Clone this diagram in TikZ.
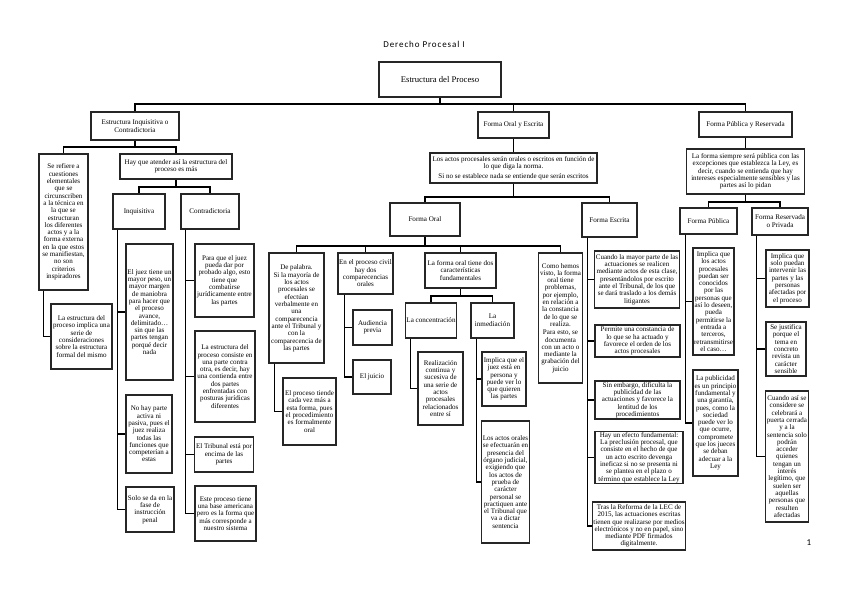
\documentclass[tikz,border=0pt]{standalone}
\usepackage{fontspec}
\setmainfont{Liberation Serif}
\newfontfamily\titlefont[LetterSpace=10]{Carlito}
\newfontfamily\pagefont{Carlito}
\usepackage{tikz}
\usetikzlibrary{calc}
\newcommand{\boxfont}{\fontsize{7.05}{7.3}\selectfont}
\newcommand{\hdrfont}{\fontsize{7.1}{8}\selectfont}
\tikzset{
  blk/.style={draw=black!85, line width=1.3pt, align=center, font=\boxfont,
              inner sep=1.2pt},
  hdr/.style={blk, font=\hdrfont},
  link/.style={line width=1.4pt, black},
}

\begin{document}
\begin{tikzpicture}[x=1pt, y=-1pt]
  \useasboundingbox (0,0) rectangle (848,599);
  \node[font=\titlefont\fontsize{9}{10}\selectfont] (title) at (424,44) {Derecho Procesal I};
  \node[font=\pagefont\fontsize{9}{10}\selectfont] (pageno) at (809,543) {1};

  % root and first level
  \node[hdr, font=\fontsize{8.7}{10}\selectfont, minimum width=122, minimum height=35] (root) at (440,79.5) {Estructura del Proceso};
  \node[hdr, minimum width=88, minimum height=28] (inq) at (135,126) {Estructura Inquisitiva o\\Contradictoria};
  \node[hdr, minimum width=71, minimum height=26] (oye) at (513.5,125) {Forma Oral y Escrita};
  \node[hdr, minimum width=93, minimum height=25] (fpr) at (745.5,124.5) {Forma Pública y Reservada};
  \coordinate (j0) at (440,104);
  \draw[link] (root.south) -- (j0);
  \draw[link] (j0) -| (inq.north);
  \draw[link] (j0) -| (oye.north);
  \draw[link] (j0) -| (fpr.north);

  % estructura inquisitiva o contradictoria
  \node[blk, minimum width=49, minimum height=136] (ref) at (63.5,222)
    {Se refiere a\\cuestiones\\elementales\\que se\\circunscriben\\a la técnica en\\la que se\\estructuran\\los diferentes\\actos y a la\\forma externa\\en la que estos\\se manifiestan,\\no son\\criterios\\inspiradores};
  \node[blk, minimum width=112, minimum height=25] (hay) at (176,166.5)
    {Hay que atender así la estructura del\\proceso es más};
  \coordinate (j1) at (135,147);
  \draw[link] (inq.south) -- (j1);
  \draw[link] (j1) -| (ref.north);
  \draw[link] (j1) -| (hay.north);
  \node[blk, minimum width=61, minimum height=65] (impl) at (81.5,336.5)
    {La estructura del\\proceso implica una\\serie de\\consideraciones\\sobre la estructura\\formal del mismo};
  \draw[link] ([xshift=5pt]ref.south west) |- (impl.west);

  \node[hdr, minimum width=52, minimum height=35] (inqv) at (139,211.5) {Inquisitiva};
  \node[hdr, minimum width=58, minimum height=35] (contr) at (210,211.5) {Contradictoria};
  \coordinate (j2) at (176,187);
  \draw[link] (hay.south) -- (j2);
  \draw[link] (j2) -| (inqv.north);
  \draw[link] (j2) -| (contr.north);

  \node[blk, minimum width=47, minimum height=136] (juez) at (149.5,312)
    {El juez tiene un\\mayor peso, un\\mayor margen\\de maniobra\\para hacer que\\el proceso\\avance,\\delimitado\ldots\\sin que las\\partes tengan\\porqué decir\\nada};
  \node[blk, minimum width=46, minimum height=78] (nohay) at (149,434)
    {No hay parte\\activa ni\\pasiva, pues el\\juez realiza\\todas las\\funciones que\\competerían a\\estas};
  \node[blk, minimum width=48, minimum height=45] (solo) at (150,509.5)
    {Solo se da en la\\fase de\\instrucción\\penal};
  \draw[link] ([xshift=5pt]inqv.south west) |- (juez.west);
  \draw[link] ([xshift=5pt]inqv.south west) |- (nohay.west);
  \draw[link] ([xshift=5pt]inqv.south west) |- (solo.west);

  \node[blk, minimum width=59, minimum height=73] (paraq) at (224.5,280.5)
    {Para que el juez\\pueda dar por\\probado algo, esto\\tiene que\\combatirse\\jurídicamente entre\\las partes};
  \node[blk, minimum width=60, minimum height=91] (consiste) at (225,376.5)
    {La estructura del\\proceso consiste en\\una parte contra\\otra, es decir, hay\\una contienda entre\\dos partes\\enfrentadas con\\posturas jurídicas\\diferentes};
  \node[blk, minimum width=58, minimum height=35] (tribunal) at (224,454.5)
    {El Tribunal está por\\encima de las\\partes};
  \node[blk, minimum width=61, minimum height=55] (base) at (225.5,513.5)
    {Este proceso tiene\\una base americana\\pero es la forma que\\más corresponde a\\nuestro sistema};
  \draw[link] ([xshift=5pt]contr.south west) |- (paraq.west);
  \draw[link] ([xshift=5pt]contr.south west) |- (consiste.west);
  \draw[link] ([xshift=5pt]contr.south west) |- (tribunal.west);
  \draw[link] ([xshift=5pt]contr.south west) |- (base.west);

  % forma oral y escrita
  \node[blk, minimum width=167, minimum height=30] (actos) at (513.5,168)
    {Los actos procesales serán orales o escritos en función de\\lo que diga la norma.\\[2pt]Si no se establece nada se entiende que serán escritos};
  \draw[link] (oye.south) -- (actos.north);
  \node[hdr, minimum width=70, minimum height=33] (oral) at (425,219.5) {Forma Oral};
  \node[hdr, minimum width=55, minimum height=34] (escr) at (609.5,220) {Forma Escrita};
  \coordinate (j3) at (513.5,197);
  \draw[link] (actos.south) -- (j3);
  \draw[link] (j3) -| (oral.north);
  \draw[link] (j3) -| (escr.north);

  \node[blk, minimum width=55, minimum height=110] (palabra) at (296.5,308)
    {De palabra.\\[1pt]Si la mayoría de\\los actos\\procesales se\\efectúan\\verbalmente en\\una\\comparecencia\\ante el Tribunal y\\con la\\comparecencia de\\las partes};
  \node[blk, minimum width=55, minimum height=41] (civil) at (365.5,273.5)
    {En el proceso civil\\hay dos\\comparecencias\\orales};
  \node[blk, minimum width=71, minimum height=35] (dos) at (460.5,270.5)
    {La forma oral tiene dos\\características\\fundamentales};
  \node[blk, minimum width=43, minimum height=130] (como) at (560.5,318)
    {Como hemos\\visto, la forma\\oral tiene\\problemas,\\por ejemplo,\\en relación a\\la constancia\\de lo que se\\realiza.\\[1pt]Para esto, se\\documenta\\con un acto o\\mediante la\\grabación del\\juicio};
  \coordinate (j4) at (425,246);
  \draw[link] (oral.south) -- (j4);
  \draw[link] (j4) -| (palabra.north);
  \draw[link] (j4) -| (civil.north);
  \draw[link] (j4) -| (dos.north);
  \draw[link] (j4) -| (como.north);

  \node[blk, minimum width=53, minimum height=67] (tiende) at (309.5,411.5)
    {El proceso tiende\\cada vez más a\\esta forma, pues\\el procedimiento\\es formalmente\\oral};
  \draw[link] ([xshift=6pt]palabra.south west) |- (tiende.west);

  \node[blk, minimum width=39, minimum height=35] (audiencia) at (372.5,327.5) {Audiencia\\previa};
  \node[blk, minimum width=38, minimum height=34] (juicio) at (372,377) {El juicio};
  \draw[link] ([xshift=7pt]civil.south west) |- (audiencia.west);
  \draw[link] ([xshift=7pt]civil.south west) |- (juicio.west);

  \node[hdr, minimum width=50, minimum height=35] (conc) at (431,320.5) {La concentración};
  \node[hdr, minimum width=43, minimum height=35] (inmed) at (492.5,320.5) {La\\inmediación};
  \coordinate (j5) at (460.5,296);
  \draw[link] (dos.south) -- (j5);
  \draw[link] (j5) -| (conc.north);
  \draw[link] (j5) -| (inmed.north);

  \node[blk, minimum width=45, minimum height=73] (realiz) at (440.5,388.5)
    {Realización\\continua y\\sucesiva de\\una serie de\\actos\\procesales\\relacionados\\entre sí};
  \draw[link] ([xshift=6pt]conc.south west) |- (realiz.west);
  \node[blk, minimum width=44, minimum height=54] (implica) at (504,379)
    {Implica que el\\juez está en\\persona y\\puede ver lo\\que quieren\\las partes};
  \node[blk, minimum width=47, minimum height=122] (orales) at (505.5,482)
    {Los actos orales\\se efectuarán en\\presencia del\\órgano judicial,\\exigiendo que\\los actos de\\prueba de\\carácter\\personal se\\practiquen ante\\el Tribunal que\\va a dictar\\sentencia};
  \draw[link] ([xshift=6pt]inmed.south west) |- (implica.west);
  \draw[link] ([xshift=6pt]inmed.south west) |- (orales.west);

  \node[blk, minimum width=84, minimum height=57] (cuando) at (637,279.5)
    {Cuando la mayor parte de las\\actuaciones se realicen\\mediante actos de esta clase,\\presentándolos por escrito\\ante el Tribunal, de los que\\se dará traslado a los demás\\litigantes};
  \node[blk, minimum width=85, minimum height=32] (permite) at (637.5,341)
    {Permite una constancia de\\lo que se ha actuado y\\favorece el orden de los\\actos procesales};
  \node[blk, minimum width=85, minimum height=34] (sinemb) at (637.5,400)
    {Sin embargo, dificulta la\\publicidad de las\\actuaciones y favorece la\\lentitud de los\\procedimientos};
  \node[blk, minimum width=88, minimum height=51] (efecto) at (639,457.5)
    {Hay un efecto fundamental:\\La preclusión procesal, que\\consiste en el hecho de que\\un acto escrito devenga\\ineficaz si no se presenta ni\\se plantea en el plazo o\\término que establece la Ley};
  \node[blk, minimum width=88, minimum height=48] (tras) at (639,526)
    {Tras la Reforma de la LEC de\\2015, las actuaciones escritas\\tienen que realizarse por medios\\electrónicos y no en papel, sino\\mediante PDF firmados\\digitalmente.};
  \draw[link] ([xshift=6pt]escr.south west) |- (cuando.west);
  \draw[link] ([xshift=6pt]escr.south west) |- (permite.west);
  \draw[link] ([xshift=6pt]escr.south west) |- (sinemb.west);
  \draw[link] ([xshift=6pt]escr.south west) |- (efecto.west);
  \draw[link] ([xshift=6pt]escr.south west) |- (tras.west);

  % forma publica y reservada
  \node[blk, minimum width=118, minimum height=45] (siempre) at (745.5,171.5)
    {La forma siempre será pública con las\\excepciones que establezca la Ley, es\\decir, cuando se entienda que hay\\intereses especialmente sensibles y las\\partes así lo pidan};
  \draw[link] (fpr.south) -- (siempre.north);
  \node[hdr, minimum width=57, minimum height=26] (fpub) at (708.5,221) {Forma Pública};
  \node[hdr, minimum width=56, minimum height=27] (fres) at (780,221.5) {Forma Reservada\\o Privada};
  \coordinate (j6) at (745.5,202);
  \draw[link] (siempre.south) -- (j6);
  \draw[link] (j6) -| (fpub.north);
  \draw[link] (j6) -| (fres.north);

  \node[blk, minimum width=39, minimum height=107] (pub1) at (713.5,301.5)
    {Implica que\\los actos\\procesales\\puedan ser\\conocidos\\por las\\personas que\\así lo deseen,\\pueda\\permitirse la\\entrada a\\terceros,\\retransmitirse\\el caso\ldots};
  \node[blk, minimum width=45, minimum height=106] (pub2) at (715.5,423)
    {La publicidad\\es un principio\\fundamental y\\una garantía,\\pues, como la\\sociedad\\puede ver lo\\que ocurre,\\compromete\\que los jueces\\se deban\\adecuar a la\\Ley};
  \draw[link] ([xshift=6pt]fpub.south west) |- (pub1.west);
  \draw[link] ([xshift=6pt]fpub.south west) |- (pub2.west);

  \node[blk, minimum width=43, minimum height=57] (res1) at (787.5,278.5)
    {Implica que\\solo puedan\\intervenir las\\partes y las\\personas\\afectadas por\\el proceso};
  \node[blk, minimum width=40, minimum height=54] (res2) at (786,349)
    {Se justifica\\porque el\\tema en\\concreto\\revista un\\carácter\\sensible};
  \node[blk, minimum width=42, minimum height=131] (res3) at (787,456.5)
    {Cuando así se\\considere se\\celebrará a\\puerta cerrada\\y a la\\sentencia solo\\podrán\\acceder\\quienes\\tengan un\\interés\\legítimo, que\\suelen ser\\aquellas\\personas que\\resulten\\afectadas};
  \draw[link] ([xshift=5pt]fres.south west) |- (res1.west);
  \draw[link] ([xshift=5pt]fres.south west) |- (res2.west);
  \draw[link] ([xshift=5pt]fres.south west) |- (res3.west);
\end{tikzpicture}
\end{document}
